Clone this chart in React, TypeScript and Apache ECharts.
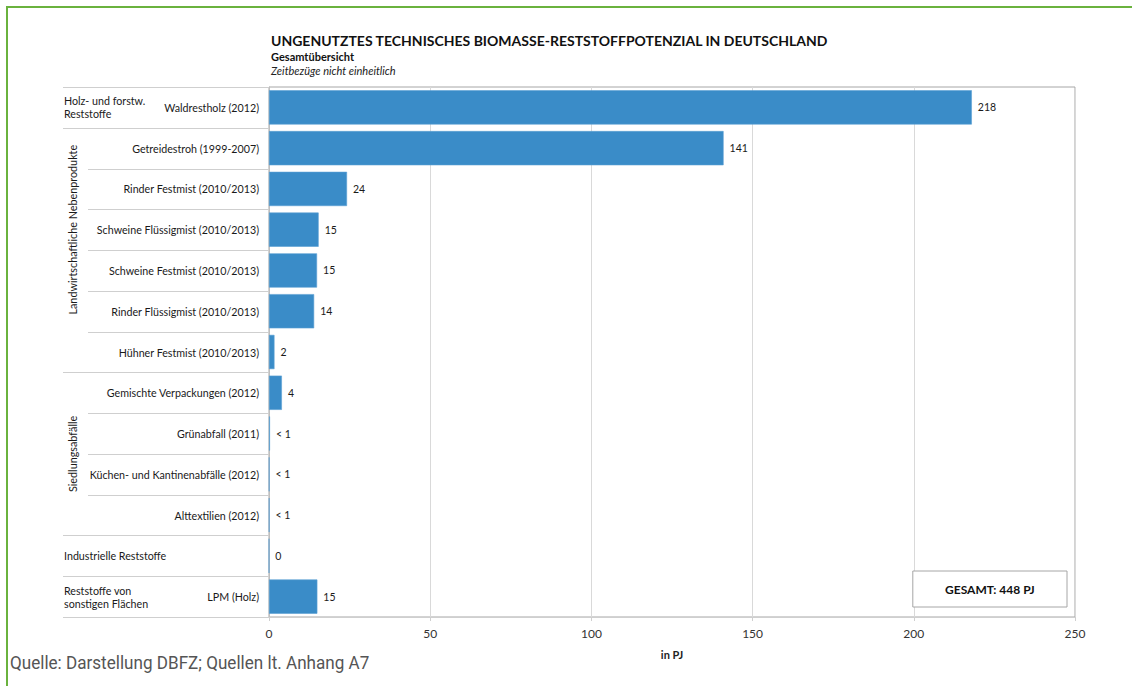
import React, { useEffect, useRef } from "react";
import * as echarts from "echarts";

const categories = [
  "Waldrestholz (2012)",
  "Getreidestroh (1999-2007)",
  "Rinder Festmist (2010/2013)",
  "Schweine Flüssigmist (2010/2013)",
  "Schweine Festmist (2010/2013)",
  "Rinder Flüssigmist (2010/2013)",
  "Hühner Festmist (2010/2013)",
  "Gemischte Verpackungen (2012)",
  "Grünabfall (2011)",
  "Küchen- und Kantinenabfälle (2012)",
  "Alttextilien (2012)",
  "",
  "LPM (Holz)",
];
const values = [218, 141, 24.2, 15.4, 14.9, 14, 1.7, 4, 0.3, 0.1, 0.1, 0, 15];
const valueLabels = ["218", "141", "24", "15", "15", "14", "2", "4", "< 1", "< 1", "< 1", "0", "15"];
const xTicks = [0, 50, 100, 150, 200, 250];

// groups: [first index, last index, label, rotated]
const groups: [number, number, string, boolean][] = [
  [0, 0, "Holz- und forstw.\nReststoffe", false],
  [1, 6, "Landwirtschaftliche Nebenprodukte", true],
  [7, 10, "Siedlungsabfälle", true],
  [11, 11, "Industrielle Reststoffe", false],
  [12, 12, "Reststoffe von\nsonstigen Flächen", false],
];

const titleText = "UNGENUTZTES TECHNISCHES BIOMASSE-RESTSTOFFPOTENZIAL IN DEUTSCHLAND";
const subTitle = "Gesamtübersicht";
const noteText = "Zeitbezüge nicht einheitlich";
const sourceText = "Quelle: Darstellung DBFZ; Quellen lt. Anhang A7";
const totalText = "GESAMT: 448 PJ";

const FONT = "Lato, 'Open Sans', sans-serif";

function txt(x: number, y: number, text: string, font: string, align: string, vAlign: string, fill = "#222", extra: any = {}) {
  return {
    type: "text",
    x,
    y,
    ...extra,
    style: {
      text,
      font,
      fill,
      align,
      textAlign: align,
      verticalAlign: vAlign,
      textVerticalAlign: vAlign,
      lineHeight: 13,
    },
    silent: true,
  };
}

export default function App() {
  const ref = useRef<HTMLDivElement>(null);
  useEffect(() => {
    if (!ref.current) return;
    const chart = echarts.init(ref.current, null, { renderer: "svg" });
    const option: any = {
      animation: false,
      grid: {
        left: 269,
        right: 57,
        top: 87,
        bottom: 69,
        show: true,
        borderColor: "#a6a6a6",
        borderWidth: 1,
      },
      xAxis: {
        type: "value",
        min: xTicks[0],
        max: xTicks[xTicks.length - 1],
        interval: 50,
        axisLine: { show: true, lineStyle: { color: "#cfcfcf" } },
        axisTick: { show: true, length: 4, lineStyle: { color: "#cfcfcf" } },
        splitLine: { show: true, lineStyle: { color: "#d9d9d9" } },
        axisLabel: { fontFamily: FONT, fontSize: 12, color: "#333", margin: 10 },
        name: "in PJ",
        nameLocation: "middle",
        nameGap: 32,
        nameTextStyle: { fontFamily: FONT, fontSize: 11, fontWeight: "bold", color: "#222" },
      },
      yAxis: {
        type: "category",
        inverse: true,
        data: categories,
        axisLine: { show: true, lineStyle: { color: "#bfbfbf" } },
        axisTick: { show: false },
        axisLabel: { fontFamily: FONT, fontSize: 10.7, color: "#1a1a1a", margin: 10, interval: 0 },
      },
      series: [
        {
          type: "bar",
          data: values,
          barCategoryGap: "16%",
          itemStyle: { color: "#3a8cc8", borderColor: "#5aa0d4", borderWidth: 0.6 },
          label: {
            show: true,
            position: "right",
            distance: 6,
            fontFamily: FONT,
            fontSize: 10.5,
            color: "#1a1a1a",
            formatter: (p: any) => valueLabels[p.dataIndex],
          },
        },
      ],
    };
    chart.setOption(option);

    const yc = (i: number) => chart.convertToPixel({ yAxisIndex: 0 }, i) as number;
    const band = yc(1) - yc(0);
    const top = (i: number) => yc(i) - band / 2;
    const bottom = (i: number) => yc(i) + band / 2;
    const plotLeft = chart.convertToPixel({ xAxisIndex: 0 }, 0) as number;
    const x200 = chart.convertToPixel({ xAxisIndex: 0 }, 200) as number;
    const x250 = chart.convertToPixel({ xAxisIndex: 0 }, 250) as number;

    const graphics: any[] = [];
    const lineStyle = { stroke: "#cfcfcf", lineWidth: 1 };
    const groupEdges = new Set<number>();
    groups.forEach(([a, b]) => {
      groupEdges.add(top(a));
      groupEdges.add(bottom(b));
    });
    groupEdges.forEach((y) => {
      const yy = Math.round(y) + 0.5;
      graphics.push({ type: "line", shape: { x1: 63, y1: yy, x2: plotLeft, y2: yy }, style: lineStyle, silent: true });
    });
    groups.forEach(([a, b, label, rot]) => {
      for (let i = a; i < b; i++) {
        const yy = Math.round(bottom(i)) + 0.5;
        graphics.push({ type: "line", shape: { x1: 88, y1: yy, x2: plotLeft, y2: yy }, style: lineStyle, silent: true });
      }
      if (rot) {
        const cy = a === 1 ? (top(a) + bottom(b - 1)) / 2 : (top(a) + bottom(b)) / 2;
        graphics.push(
          txt(72, cy, label, `10.8px ${FONT}`, "center", "middle", "#1a1a1a", { rotation: Math.PI / 2 })
        );
      } else {
        graphics.push(txt(64, yc(a), label, `10.7px ${FONT}`, "left", "middle", "#1a1a1a"));
      }
    });

    // total box
    const boxL = x200 - 1;
    const boxR = x250 - 8;
    graphics.push({
      type: "rect",
      shape: { x: boxL, y: 571, width: boxR - boxL, height: 36 },
      style: { fill: "#fff", stroke: "#a6a6a6", lineWidth: 1 },
      silent: true,
    });
    graphics.push(txt((boxL + boxR) / 2, 589, totalText, `bold 12px ${FONT}`, "center", "middle", "#111"));

    // titles
    graphics.push(txt(271, 40, titleText, `bold 14px ${FONT}`, "left", "middle", "#111"));
    graphics.push(txt(271, 56, subTitle, `bold 11px ${FONT}`, "left", "middle", "#111"));
    graphics.push(txt(271, 70, noteText, `italic 11px ${FONT}`, "left", "middle", "#222"));

    // source
    graphics.push(txt(10, 663, sourceText, `18px Roboto, sans-serif`, "left", "middle", "#555", { scaleX: 0.95 }));

    // green frame
    graphics.push({ type: "line", shape: { x1: 6, y1: 7, x2: 1132, y2: 7 }, style: { stroke: "#6ab23e", lineWidth: 2 }, silent: true });
    graphics.push({ type: "line", shape: { x1: 7, y1: 6, x2: 7, y2: 686 }, style: { stroke: "#6ab23e", lineWidth: 2 }, silent: true });

    chart.setOption({ graphic: graphics });

    return () => chart.dispose();
  }, []);
  return <div ref={ref} style={{ position: "absolute", left: 0, top: 0, width: 1132, height: 686, background: "#fff" }} />;
}
